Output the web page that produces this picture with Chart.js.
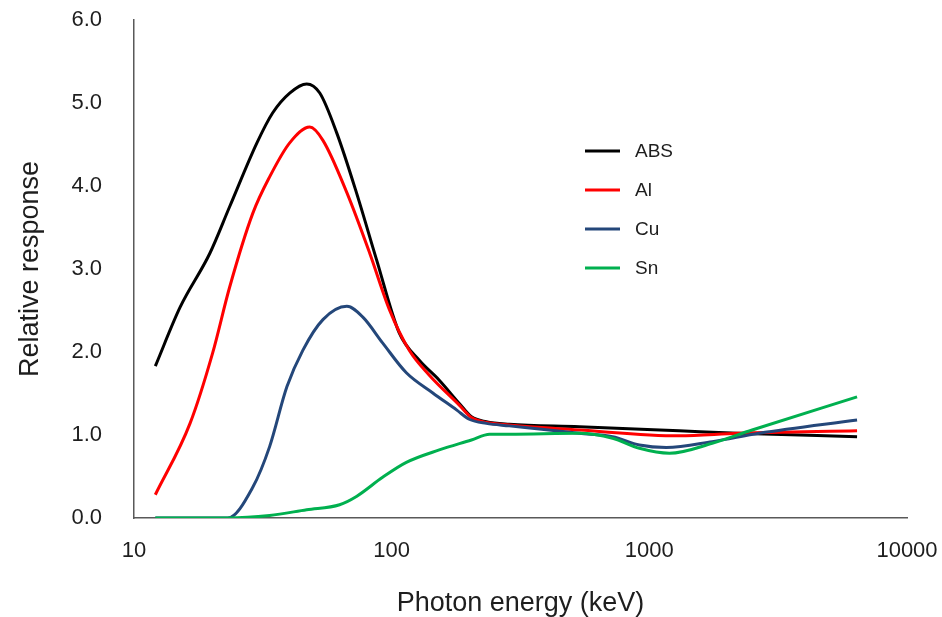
<!DOCTYPE html>
<html>
<head>
<meta charset="utf-8">
<title>Relative response</title>
<script src="https://cdn.jsdelivr.net/npm/chart.js@4/dist/chart.umd.min.js"></script>
<style>
	html, body { margin: 0; padding: 0; background: #fff; }
	#wrap { width: 942px; height: 617px; }
</style>
</head>
<body>
<div id="wrap"><canvas id="graph_resp" width="942" height="617"></canvas></div>
<script>
// photon energy (keV) / relative response, per filter
const absEnergy = [12.1, 15.1, 19.7, 23.5, 30, 34.5, 40.2, 46.8, 52.6, 61.2, 73, 87.4, 107, 128, 153, 183, 204, 233, 286, 535, 1306, 2200, 6400];
const absResp   = [1.83, 2.54, 3.19, 3.75, 4.52, 4.88, 5.12, 5.23, 5.12, 4.64, 3.92, 3.11, 2.23, 1.90, 1.66, 1.38, 1.22, 1.16, 1.13, 1.10, 1.05, 1.02, 0.98];

const alEnergy = [12.1, 16.5, 20.2, 23.5, 28.9, 33.6, 40.2, 48.1, 54.1, 67, 82.2, 98, 117, 140, 183, 204, 233, 286, 535, 1306, 2200, 6400];
const alResp   = [0.28, 1.14, 1.99, 2.78, 3.67, 4.11, 4.52, 4.71, 4.55, 3.92, 3.19, 2.51, 2.02, 1.72, 1.36, 1.21, 1.15, 1.12, 1.06, 0.99, 1.02, 1.05];

const cuEnergy = [12.1, 23.1, 28.9, 33.6, 39.2, 45.2, 54.1, 67, 77.3, 92.2, 114, 144, 179, 200, 233, 286, 535, 720, 915, 1164, 1754, 2670, 6400];
const cuResp   = [0, 0, 0.37, 0.86, 1.58, 2.02, 2.39, 2.55, 2.42, 2.11, 1.75, 1.51, 1.30, 1.19, 1.14, 1.11, 1.02, 0.98, 0.88, 0.85, 0.92, 1.02, 1.18];

const snEnergy = [12.1, 23, 33.6, 46.8, 62.8, 73, 92.2, 114, 153, 204, 240, 286, 535, 720, 915, 1197, 1754, 2506, 6400];
const snResp   = [0, 0, 0.03, 0.10, 0.16, 0.26, 0.49, 0.67, 0.82, 0.94, 1.01, 1.01, 1.02, 0.96, 0.84, 0.78, 0.90, 1.06, 1.46];

const seriesNames  = ["ABS", "Al", "Cu", "Sn"];
const seriesColors = ["#000000", "#ff0000", "#24477a", "#00b04f"];
const xTicks = [10, 100, 1000, 10000];

const FONT = "'Liberation Sans', Arial, sans-serif";
const TXT = "#1e1e1e";

function toPoints(ex, ys) {
	return ex.map(function(e, i) { return { x: e, y: ys[i] }; });
}

// legend sits inside the plot area, drawn by hand
const innerLegend = {
	id: "innerLegend",
	afterDraw: function(chart) {
		let ctx = chart.ctx;
		ctx.save();
		ctx.font = "19px " + FONT;
		ctx.textBaseline = "middle";
		seriesNames.forEach(function(name, i) {
			let y = 151 + i * 39;
			ctx.strokeStyle = seriesColors[i];
			ctx.lineWidth = 3;
			ctx.beginPath();
			ctx.moveTo(585, y);
			ctx.lineTo(620, y);
			ctx.stroke();
			ctx.fillStyle = TXT;
			ctx.fillText(name, 635, y + 1);
		});
		ctx.restore();
	}
};

const sets = [
	[absEnergy, absResp],
	[alEnergy, alResp],
	[cuEnergy, cuResp],
	[snEnergy, snResp]
].map(function(s, i) {
	return {
		label: seriesNames[i],
		data: toPoints(s[0], s[1]),
		borderColor: seriesColors[i],
		borderWidth: 3,
		pointRadius: 0,
		fill: false,
		cubicInterpolationMode: "monotone",
		order: 3 - i   // Sn on top
	};
});

var ctx = document.getElementById("graph_resp").getContext("2d");
var respChart = new Chart(ctx, {
	type: "line",
	data: { datasets: sets },
	options: {
		responsive: false,
		animation: false,
		layout: { padding: { top: 20, right: 35, left: 0, bottom: 0 } },
		scales: {
			x: {
				type: "logarithmic",
				min: 10,
				max: 10000,
				afterBuildTicks: function(scale) {
					scale.ticks = xTicks.map(function(v) { return { value: v }; });
				},
				afterFit: function(scale) {
					scale.height = 99;
					scale.paddingLeft = 0;
					scale.paddingRight = 0;
				},
				grid: { display: false, drawTicks: false },
				border: { display: true, color: "#595959", width: 1.5 },
				ticks: {
					color: TXT,
					font: { family: FONT, size: 22 },
					padding: 20,
					maxRotation: 0,
					autoSkip: false,
					callback: function(v) { return String(v); }
				},
				title: {
					display: true,
					text: "Photon energy (keV)",
					color: TXT,
					font: { family: FONT, size: 27 },
					padding: { top: 0, bottom: -3 }
				}
			},
			y: {
				min: 0,
				max: 6,
				afterFit: function(scale) {
					scale.width = 134;
					scale.paddingTop = 0;
					scale.paddingBottom = 0;
				},
				grid: { display: false, drawTicks: false },
				border: { display: true, color: "#595959", width: 1.5 },
				ticks: {
					stepSize: 1,
					color: TXT,
					font: { family: FONT, size: 22 },
					padding: 32,
					callback: function(v) { return v.toFixed(1); }
				},
				title: {
					display: true,
					text: "Relative response",
					color: TXT,
					font: { family: FONT, size: 27 },
					padding: { top: 14, bottom: 0 }
				}
			}
		},
		plugins: {
			legend: { display: false },
			tooltip: { enabled: false }
		}
	},
	plugins: [innerLegend]
});
</script>
</body>
</html>
